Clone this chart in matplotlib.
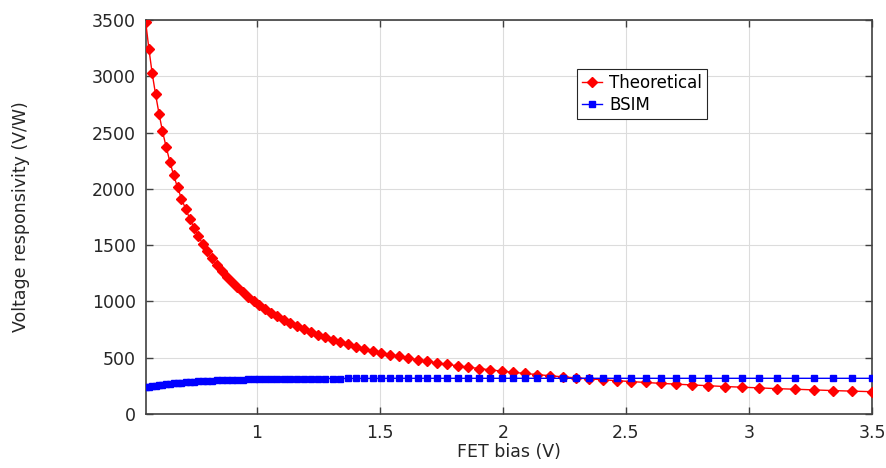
import numpy as np
import matplotlib
matplotlib.use("Agg")
import matplotlib.pyplot as plt

# FET bias (V)
bias = [0.550, 0.563, 0.576, 0.590, 0.604, 0.618, 0.633, 0.648, 0.663, 0.679,
        0.695, 0.712, 0.729, 0.746, 0.763, 0.782, 0.800, 0.819, 0.838, 0.858,
        0.879, 0.900, 0.921, 0.943, 0.965, 0.988, 1.011, 1.035, 1.060, 1.085,
        1.111, 1.137, 1.164, 1.191, 1.220, 1.249, 1.278, 1.309, 1.340, 1.371,
        1.404, 1.437, 1.471, 1.506, 1.542, 1.578, 1.616, 1.654, 1.693, 1.733,
        1.774, 1.816, 1.859, 1.904, 1.949, 1.995, 2.042, 2.091, 2.140, 2.191,
        2.243, 2.296, 2.350, 2.406, 2.463, 2.521, 2.581, 2.642, 2.705, 2.769,
        2.835, 2.902, 2.971, 3.041, 3.113, 3.187, 3.263, 3.340, 3.419, 3.500]

# voltage responsivity (V/W)
theoretical = [3478, 3241, 3028, 2839, 2667, 2512, 2371, 2242, 2123, 2014,
               1914, 1821, 1735, 1655, 1580, 1510, 1445, 1383, 1326, 1272,
               1220, 1172, 1127, 1083, 1043, 1004, 967, 932, 899, 867,
               837, 808, 781, 754, 729, 705, 682, 660, 639, 619,
               599, 580, 562, 545, 528, 512, 497, 482, 468, 454,
               441, 428, 416, 404, 392, 381, 370, 360, 350, 340,
               330, 321, 312, 304, 296, 288, 280, 272, 265, 258,
               251, 244, 238, 232, 225, 220, 214, 208, 203, 198]

bsim = [237, 242, 247, 251, 256, 260, 264, 268, 272, 275,
        278, 281, 284, 287, 289, 292, 294, 296, 298, 300,
        302, 303, 304, 306, 307, 308, 309, 310, 311, 311,
        312, 313, 313, 314, 314, 315, 315, 315, 315, 316,
        316, 316, 316, 316, 317, 317, 317, 317, 317, 317,
        317, 317, 317, 317, 317, 317, 317, 317, 317, 317,
        317, 317, 317, 317, 317, 317, 317, 317, 317, 317,
        317, 317, 317, 317, 317, 317, 317, 317, 317, 317]

plt.rcParams["font.family"] = "DejaVu Sans"
fig = plt.figure(figsize=(8.87, 4.68), dpi=100)
ax = fig.add_axes([0.1643, 0.1154, 0.8191, 0.8419])

ax.plot(bias, theoretical, "-D", color="red", lw=1, ms=5, label="Theoretical", zorder=3)
ax.plot(bias, bsim, "-s", color="blue", lw=1, ms=4.7, label="BSIM", zorder=3)

ax.set_xlim(0.55, 3.5)
ax.set_ylim(0, 3500)
ax.set_xticks([1, 1.5, 2, 2.5, 3, 3.5])
ax.set_xticklabels(["1", "1.5", "2", "2.5", "3", "3.5"])
ax.set_yticks(np.arange(0, 3501, 500))
ax.grid(True, color="#dcdcdc", lw=0.8)
ax.set_axisbelow(True)
ax.tick_params(direction="in", top=True, right=True, length=5, width=1,
               colors="#404040", labelsize=12.5, labelcolor="#262626")
ax.tick_params(axis="x", pad=7)
ax.tick_params(axis="y", pad=7)
for s in ax.spines.values():
    s.set_color("#404040"); s.set_linewidth(1.2)

ax.set_xlabel("FET bias (V)", fontsize=12.5, color="#262626", labelpad=1)
ax.set_ylabel("Voltage responsivity (V/W)", fontsize=12.5, color="#262626", labelpad=45)

leg = ax.legend(loc="upper left", bbox_to_anchor=(0.594, 0.875), fontsize=12,
                fancybox=False, framealpha=1, edgecolor="#262626",
                handlelength=1.2, handletextpad=0.4, borderpad=0.3, labelspacing=0.2,
                borderaxespad=0)
leg.get_frame().set_linewidth(0.8)

fig.savefig("out.png", dpi=100)
